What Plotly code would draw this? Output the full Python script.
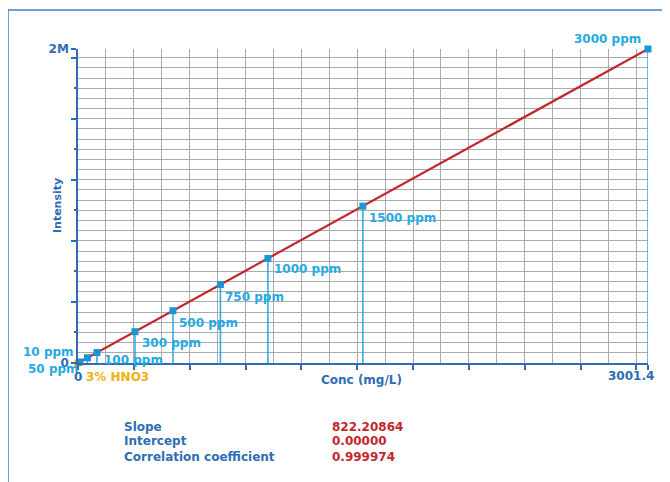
import plotly.graph_objects as go

# ---------------- data ----------------
sample_labels = ["3% HNO3", "10 ppm", "50 ppm", "100 ppm", "300 ppm", "500 ppm",
                 "750 ppm", "1000 ppm", "1500 ppm", "3000 ppm"]
conc = [0, 10, 50, 100, 300, 500, 750, 1000, 1500, 3001.4]
intensity = [0, 8200, 41000, 82000, 246000, 411000, 617000, 822000, 1233000, 2468000]

fit_x = [0, 3001.4]
fit_y = [0, 2468000]

x_min_label = "0"
x_max_label = "3001.4"
y_min_label = "0"
y_max_label = "2M"

stat_names = ["Slope", "Intercept", "Correlation coefficient"]
stat_values = ["822.20864", "0.00000", "0.999974"]

# ---------------- styles ----------------
FONT = "DejaVu Sans"
DARK_BLUE = "#2E6DB4"
LIGHT_BLUE = "#27A9E1"
MARKER_BLUE = "#1B95D3"
RED = "#C1272D"
ORANGE = "#EDB20F"
GRID = "#ababab"

X_MAX = 3001.4
Y_MAX = 2468000
X_GRID = 147
X_TICK = 294
Y_GRID = 80000
Y_TICK = 480000
Y_TICK_MINOR = 240000

# label placement (px offsets from the marker)
label_dx = [6, -4, -7, 5, 5, 4, 3, 4, 4, -5]
label_dy = [-14, 10, -11, -7, -11, -12, -12, -11, -12, 10]
label_anchor = ["left", "right", "right", "left", "left", "left", "left", "left", "left", "right"]
label_color = [ORANGE] + [LIGHT_BLUE] * 9
marker_color = [ORANGE] + [MARKER_BLUE] * 9

fig = go.Figure()

# drop lines
dx, dy = [], []
for c, i in zip(conc, intensity):
    dx += [c, c, None]
    dy += [0, i, None]
fig.add_trace(go.Scatter(x=dx, y=dy, mode="lines",
                         line=dict(color=LIGHT_BLUE, width=1.5),
                         hoverinfo="skip", showlegend=False))

# fit line
fig.add_trace(go.Scatter(x=fit_x, y=fit_y, mode="lines",
                         line=dict(color=RED, width=2.2),
                         hoverinfo="skip", showlegend=False))

# markers
fig.add_trace(go.Scatter(x=conc, y=intensity, mode="markers",
                         marker=dict(symbol="square", size=7, color=marker_color),
                         showlegend=False, cliponaxis=False))

# dummy for secondary y axis (short ticks)
fig.add_trace(go.Scatter(x=[None], y=[None], yaxis="y2", showlegend=False, hoverinfo="skip"))

annotations = []
for lab, c, i, ddx, ddy, anc, col in zip(sample_labels, conc, intensity, label_dx,
                                         label_dy, label_anchor, label_color):
    annotations.append(dict(x=c, y=i, xref="x", yref="y", text="<b>%s</b>" % lab,
                            showarrow=False, xanchor=anc, yanchor="middle",
                            xshift=ddx, yshift=ddy,
                            font=dict(family=FONT, size=12, color=col)))

# end labels of the x axis
annotations.append(dict(x=X_MAX, y=0, xref="x", yref="y", text="<b>%s</b>" % x_max_label,
                        showarrow=False, xanchor="right", yanchor="middle",
                        xshift=8, yshift=-13,
                        font=dict(family=FONT, size=12, color=DARK_BLUE)))
annotations.append(dict(x=0, y=0, xref="x", yref="y", text="<b>%s</b>" % x_min_label,
                        showarrow=False, xanchor="center", yanchor="middle",
                        xshift=0, yshift=-14,
                        font=dict(family=FONT, size=12, color=DARK_BLUE)))

# axis titles
annotations.append(dict(x=0.498, y=-0.054, xref="paper", yref="paper",
                        text="<b>Conc (mg/L)</b>", showarrow=False,
                        xanchor="center", yanchor="middle",
                        font=dict(family=FONT, size=12, color=DARK_BLUE)))
annotations.append(dict(x=-0.0368, y=0.5, xref="paper", yref="paper",
                        text="<b>Intensity</b>", showarrow=False, textangle=-90,
                        xanchor="center", yanchor="middle",
                        font=dict(family=FONT, size=11, color=DARK_BLUE)))

# stats table
stat_rows_y = [-0.2038, -0.2484, -0.2994]
for name, val, yy in zip(stat_names, stat_values, stat_rows_y):
    annotations.append(dict(x=0.0772, y=yy, xref="paper", yref="paper",
                            text="<b>%s</b>" % name, showarrow=False,
                            xanchor="left", yanchor="middle",
                            font=dict(family=FONT, size=12, color=DARK_BLUE)))
    annotations.append(dict(x=0.442, y=yy, xref="paper", yref="paper",
                            text="<b>%s</b>" % val, showarrow=False,
                            xanchor="left", yanchor="middle",
                            font=dict(family=FONT, size=12, color=RED)))

x_tickvals = [k * X_TICK for k in range(int(X_MAX // X_TICK) + 1)] + [X_MAX]
y_tickvals = [k * Y_TICK for k in range(int(Y_MAX // Y_TICK) + 1)] + [Y_MAX]
y_ticktext = ["<b>%s</b>" % (y_min_label if v == 0 else y_max_label if v == Y_MAX else "")
              if v in (0, Y_MAX) else "" for v in y_tickvals]
y_short = [k * Y_TICK_MINOR for k in range(int(Y_MAX // Y_TICK_MINOR) + 1) if k % 2 == 1]

# the page body adds an 8px margin, so the figure is drawn 8px smaller and offset
fig.update_layout(
    width=662, height=474,
    margin=dict(l=70, r=22, t=41, b=119),
    paper_bgcolor="white", plot_bgcolor="white",
    showlegend=False,
    annotations=annotations,
    xaxis=dict(range=[0, X_MAX], showgrid=False, zeroline=False,
               showline=True, linecolor=DARK_BLUE, linewidth=1.5,
               tickmode="array", tickvals=x_tickvals, showticklabels=False,
               ticks="outside", ticklen=5, tickcolor=DARK_BLUE, tickwidth=1.5,
               minor=dict(tick0=0, dtick=X_GRID, showgrid=True, gridcolor=GRID,
                          gridwidth=1, ticks="")),
    yaxis=dict(range=[0, Y_MAX], showgrid=False, zeroline=False,
               showline=True, linecolor=DARK_BLUE, linewidth=1.5,
               tickmode="array", tickvals=y_tickvals, ticktext=y_ticktext,
               ticks="outside", ticklen=5, tickcolor=DARK_BLUE, tickwidth=1.5,
               tickfont=dict(family=FONT, size=12, color=DARK_BLUE),
               minor=dict(tick0=0, dtick=Y_GRID, showgrid=True, gridcolor=GRID,
                          gridwidth=1, ticks="")),
    yaxis2=dict(range=[0, Y_MAX], overlaying="y", side="left", showgrid=False,
                zeroline=False, showline=False, tickmode="array", tickvals=y_short,
                ticks="outside", ticklen=3, tickcolor=DARK_BLUE, tickwidth=1.5,
                showticklabels=False),
    shapes=[
        dict(type="line", xref="paper", yref="paper", x0=-0.1228, x1=1.04,
             y0=1.1242, y1=1.1242, line=dict(color="#3F7FC6", width=1.5)),
        dict(type="line", xref="paper", yref="paper", x0=-0.1228, x1=-0.1228,
             y0=1.1242, y1=-0.40, line=dict(color="#3F7FC6", width=1.5)),
    ],
)

fig.write_html("out.html")
